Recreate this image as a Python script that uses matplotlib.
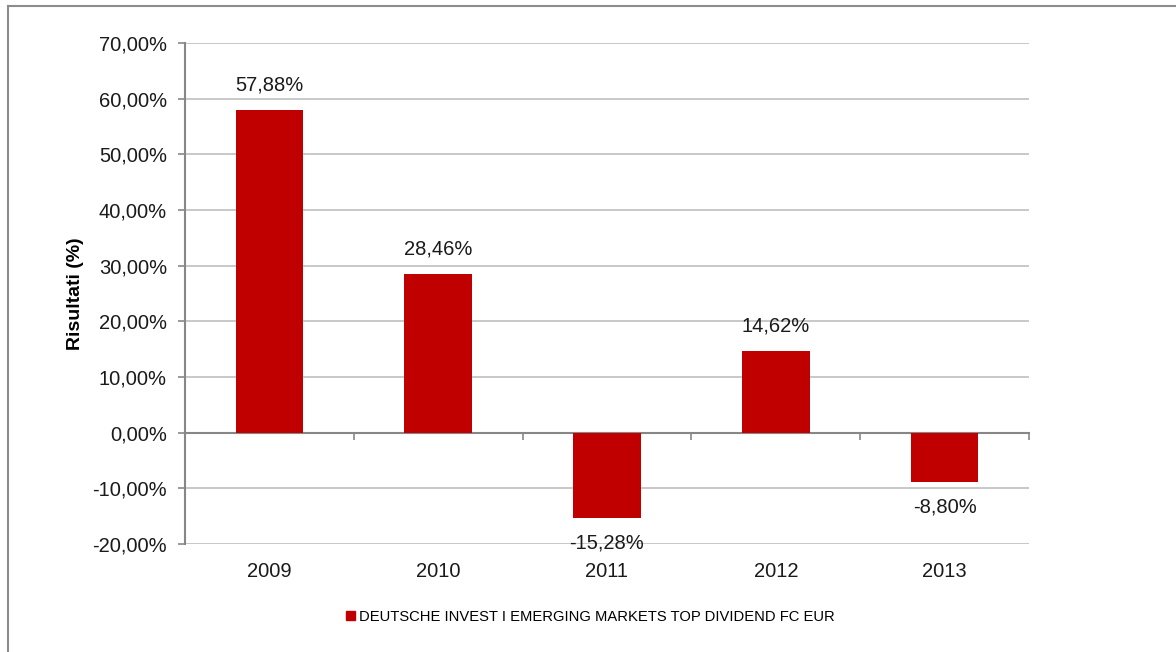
import matplotlib.pyplot as plt
from matplotlib.lines import Line2D
from matplotlib.patches import Patch

plt.rcParams['font.family'] = ['Liberation Sans', 'DejaVu Sans']

# data
years = ['2009', '2010', '2011', '2012', '2013']
returns = [57.88, 28.46, -15.28, 14.62, -8.80]
series_name = 'DEUTSCHE INVEST I EMERGING MARKETS TOP DIVIDEND FC EUR'
y_ticks = [-20, -10, 0, 10, 20, 30, 40, 50, 60, 70]

bar_color = '#C00000'
grid_color = '#BFBFBF'
axis_color = '#878787'


def pct(v):
    return f'{v:.2f}%'.replace('.', ',')


fig = plt.figure(figsize=(11.76, 6.52), dpi=100)
ax = fig.add_axes([0.1573, 0.1656, 0.7177, 0.7685])

x = list(range(len(years)))
ax.bar(x, returns, width=0.40, color=bar_color, zorder=3)

# value labels above / below each bar
for xi, v in zip(x, returns):
    off = 18 if v >= 0 else -18
    ax.annotate(pct(v), (xi, v), xytext=(0, off), textcoords='offset points',
                ha='center', va='center', fontsize=14.5, color='#1a1a1a', zorder=4)

ax.set_xlim(-0.5, len(years) - 0.5)
ax.set_ylim(-20, 70)
ax.set_yticks(y_ticks)
ax.set_yticklabels([pct(t) for t in y_ticks], fontsize=14.5, color='#1a1a1a')
ax.yaxis.grid(True, color=grid_color, linewidth=1.2, zorder=0)
ax.set_axisbelow(True)
ax.tick_params(axis='y', length=5, width=1.2, color=axis_color, pad=8)
ax.set_ylabel('Risultati (%)', fontsize=14, fontweight='bold', labelpad=6)

# category axis sits on the zero line, with ticks at the category boundaries
for s in ['top', 'right']:
    ax.spines[s].set_visible(False)
ax.spines['left'].set_color(axis_color)
ax.spines['left'].set_linewidth(1.5)
ax.spines['bottom'].set_position(('data', 0))
ax.spines['bottom'].set_color(axis_color)
ax.spines['bottom'].set_linewidth(1.5)
ax.set_xticks([i - 0.5 for i in range(len(years) + 1)])
ax.set_xticklabels([])
ax.tick_params(axis='x', length=5, width=1.2, color=axis_color)

sec = ax.secondary_xaxis('bottom')
sec.set_xticks(x)
sec.set_xticklabels(years, fontsize=14.5, color='#1a1a1a')
sec.tick_params(length=0, pad=13)
sec.spines['bottom'].set_visible(False)

fig.legend(handles=[Patch(color=bar_color, label=series_name)],
           loc='center', bbox_to_anchor=(0.502, 0.0537), frameon=False,
           fontsize=10.6, handlelength=0.6, handleheight=0.6, handletextpad=0.3)

# outer chart frame (top and left edges visible)
fig.add_artist(Line2D([0.0068, 1.0], [0.9908, 0.9908], color='#8c8c8c', linewidth=1.5))
fig.add_artist(Line2D([0.0068, 0.0068], [0.0, 0.9908], color='#8c8c8c', linewidth=1.5))

fig.savefig('out.png', dpi=100)
